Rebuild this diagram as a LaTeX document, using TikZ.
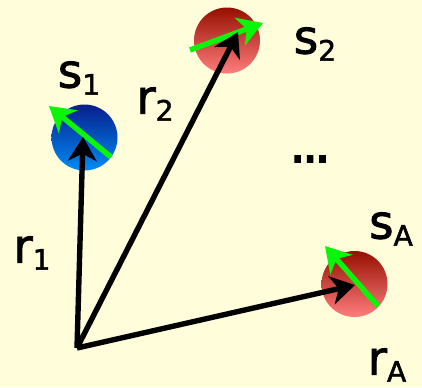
\documentclass[tikz,border=0pt]{standalone}
\usepackage{fontspec}
\setmainfont{DejaVu Sans}
\newfontface\lblfont{DejaVu Sans}[FakeBold=1.8]
\usetikzlibrary{arrows.meta}

\definecolor{paper}{RGB}{255,253,218}
\definecolor{bluetop}{RGB}{8,30,140}
\definecolor{bluebot}{RGB}{0,140,245}
\definecolor{redtop}{RGB}{150,15,0}
\definecolor{redbot}{RGB}{255,125,125}
\definecolor{spingreen}{RGB}{10,245,10}

\newcommand{\subidx}[1]{\raisebox{-6pt}{\fontsize{24}{26}\selectfont #1}}

\begin{document}
\begin{tikzpicture}[x=0.03cm, y=-0.03cm,
  ball/.style={circle, minimum size=1.98cm, inner sep=0pt, shading=axis},
  blueball/.style={ball, top color=bluetop, bottom color=bluebot},
  redball/.style={ball, top color=redtop, bottom color=redbot},
  posvec/.style={line width=4.6pt, -{Stealth[length=0.72cm, width=0.86cm, inset=0.22cm]}},
  spinvec/.style={line width=4.6pt, draw=spingreen, -{Stealth[length=0.74cm, width=0.88cm, inset=0.22cm]}},
  lbl/.style={font=\lblfont\fontsize{40}{44}\selectfont, inner sep=0pt}]
% background and frame
\fill[paper] (0,0) rectangle (422,387);
\useasboundingbox (0,0) rectangle (422,387);

% particles
\node[blueball] (ball1) at (84.5,137.5) {};
\node[redball] (ball2) at (227,40.5) {};
\node[redball] (ballA) at (354.5,284) {};

\coordinate (O) at (77,348);
\coordinate (p1) at (83,137);
\coordinate (p2) at (238,32);
\coordinate (pA) at (355,285);

% spins
\coordinate (t1) at (111,157);
\coordinate (h1) at (49,106);
\coordinate (t2) at (190,50);
\coordinate (h2) at (263,23);
\coordinate (tA) at (378,306);
\coordinate (hA) at (325,246);
\draw[spinvec] (t1) -- (h1);
\draw[spinvec] (t2) -- (h2);
\draw[spinvec] (tA) -- (hA);

% positions
\draw[posvec] (O) -- (p1);
\draw[posvec] (O) -- (p2);
\draw[posvec] (O) -- (pA);

% labels
\node[lbl] (s1) at (79,78) {s\subidx{1}};
\node[lbl] (s2) at (315,44) {s\subidx{2}};
\node[lbl] (sA) at (391,229) {s\subidx{A}};
\node[lbl] (r1) at (32,253) {r\subidx{1}};
\node[lbl] (r2) at (155,104) {r\subidx{2}};
\node[lbl] (rA) at (387,365) {r\subidx{A}};
\node[lbl, font=\lblfont\fontsize{46}{50}\selectfont] (dots) at (310,159) {.\kern-4pt.\kern-4pt.};
\end{tikzpicture}
\end{document}
